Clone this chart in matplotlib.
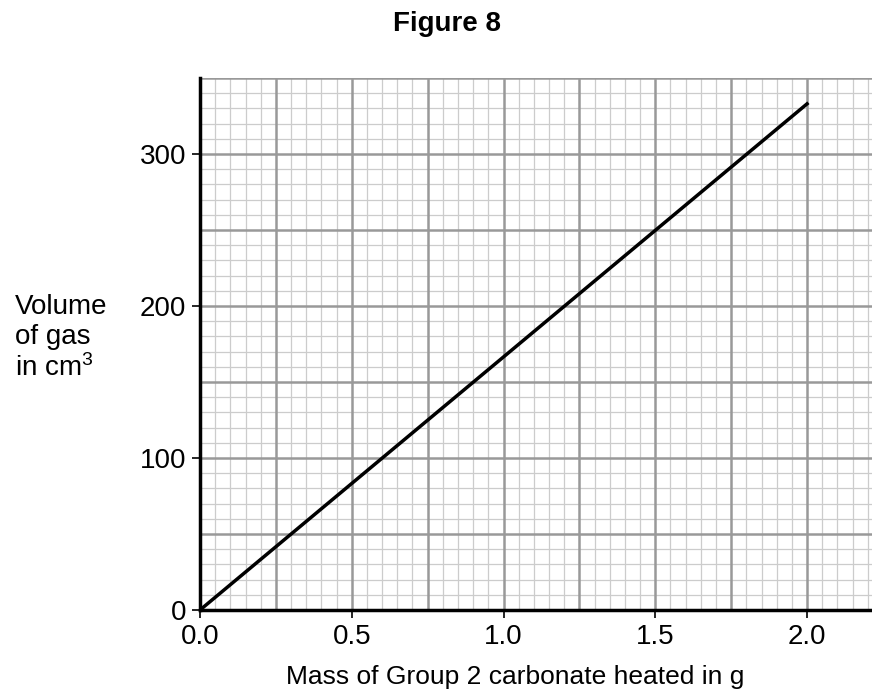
import matplotlib.pyplot as plt
from matplotlib.ticker import MultipleLocator

plt.rcParams['font.family'] = ['Liberation Sans', 'DejaVu Sans']
plt.rcParams['mathtext.default'] = 'regular'

# data
mass = [0.0, 2.0]
volume = [0, 333]
x_ticks = [0.0, 0.5, 1.0, 1.5, 2.0]
y_ticks = [0, 100, 200, 300]


def main():
    fig = plt.figure(figsize=(8.72, 6.98), dpi=100)
    ax = fig.add_axes([200 / 872, 1 - 610 / 698, 672 / 872, 532 / 698])

    ax.set_xlim(0, 2.214)
    ax.set_ylim(0, 350)

    # graph paper grid
    for v in [i * 0.05 for i in range(1, 45)]:
        if v > 2.214:
            break
        major = abs(v / 0.25 - round(v / 0.25)) < 1e-6
        ax.axvline(v, color='#999999' if major else '#cccccc',
                   lw=1.8 if major else 0.9, zorder=1 if major else 0)
    for v in range(10, 351, 10):
        major = v % 50 == 0
        ax.axhline(v, color='#999999' if major else '#cccccc',
                   lw=1.8 if major else 0.9, zorder=1 if major else 0)

    ax.plot(mass, volume, color='black', lw=2.5, zorder=3)

    ax.set_xticks(x_ticks)
    ax.set_xticklabels([f"{t:.1f}" for t in x_ticks])
    ax.set_yticks(y_ticks)
    ax.tick_params(which='major', length=6, width=1.2, labelsize=20, pad=4)

    for s in ['top', 'right']:
        ax.spines[s].set_visible(False)
    for s in ['left', 'bottom']:
        ax.spines[s].set_linewidth(2.5)
        ax.spines[s].set_zorder(4)

    fig.text(447 / 872, 1 - 24 / 698, "Figure 8", ha='center', va='center',
             fontsize=20, fontweight='bold')
    fig.text(515 / 872, 1 - 677 / 698, "Mass of Group 2 carbonate heated in g",
             ha='center', va='center', fontsize=19)
    fig.text(15 / 872, 1 - 294 / 698, "Volume\nof gas\nin cm$^3$",
             ha='left', va='top', fontsize=20, linespacing=1.2)

    fig.savefig("out.png", dpi=100)


if __name__ == "__main__":
    main()
